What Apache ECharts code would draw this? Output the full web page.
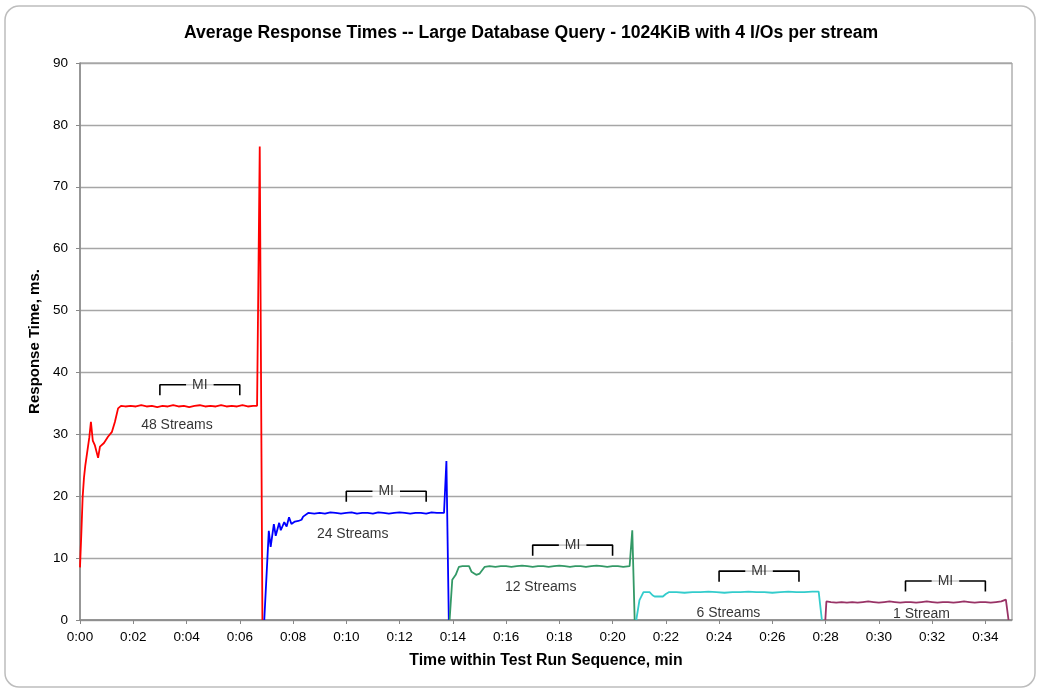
<!DOCTYPE html>
<html>
<head>
<meta charset="utf-8">
<script src="https://cdn.jsdelivr.net/npm/echarts@6/dist/echarts.min.js"></script>
<style>html,body{margin:0;padding:0;background:#fff}#c{width:1039px;height:690px}</style>
</head>
<body>
<div id="c"></div>
<script>
// ---- data (time in minutes, response time in ms) ----
const red48 = [[0,8.5],[0.05,14],[0.1,19.9],[0.15,23],[0.2,25],[0.3,28],[0.35,29.5],[0.41,32],[0.48,29],[0.56,28.2],[0.62,28],[0.68,26.2],[0.75,28],[0.9,28.6],[1.05,29.6],[1.2,30.4],[1.31,32],[1.43,34.2],[1.54,34.6],
  [1.7,34.5],[1.9,34.6],[2.1,34.5],[2.3,34.7],[2.5,34.5],[2.7,34.6],[2.9,34.4],[3.1,34.6],[3.3,34.5],[3.5,34.7],[3.7,34.5],[3.9,34.6],[4.1,34.4],[4.3,34.6],[4.5,34.7],[4.7,34.5],[4.9,34.6],[5.1,34.5],[5.3,34.7],[5.5,34.5],[5.7,34.6],[5.9,34.5],[6.1,34.7],[6.3,34.5],[6.5,34.6],[6.65,34.6],[6.75,76.5],[6.85,0]];
const blue24 = [[6.92,0],[7.09,14.4],[7.16,11.8],[7.28,15.5],[7.35,13.6],[7.48,15.7],[7.54,14.5],[7.67,15.8],[7.76,15.1],[7.85,16.6],[7.94,15.5],[8.07,15.9],[8.2,16.0],[8.32,16.2],[8.38,16.7],[8.57,17.3],
  [8.8,17.2],[9.0,17.3],[9.2,17.2],[9.4,17.4],[9.6,17.3],[9.8,17.2],[10.0,17.3],[10.2,17.4],[10.4,17.2],[10.6,17.3],[10.8,17.3],[11.0,17.2],[11.2,17.4],[11.4,17.3],[11.6,17.2],[11.8,17.3],[12.0,17.4],[12.2,17.3],[12.4,17.2],[12.6,17.3],[12.8,17.3],[13.0,17.2],[13.2,17.4],[13.4,17.3],[13.67,17.3],[13.76,25.7],[13.85,0]];
const green12 = [[13.88,0],[13.98,6.5],[14.03,6.2],[14.11,7.3],[14.23,8.6],[14.36,8.7],[14.61,8.7],[14.70,7.8],[14.88,7.3],[15.01,7.5],[15.20,8.6],[15.38,8.7],
  [15.6,8.6],[15.8,8.7],[16.0,8.7],[16.2,8.6],[16.4,8.7],[16.6,8.8],[16.8,8.7],[17.0,8.6],[17.2,8.7],[17.4,8.7],[17.6,8.6],[17.8,8.7],[18.0,8.8],[18.2,8.7],[18.4,8.6],[18.6,8.7],[18.8,8.7],[19.0,8.6],[19.2,8.7],[19.4,8.8],[19.6,8.7],[19.8,8.6],[20.0,8.7],[20.2,8.7],[20.4,8.6],[20.64,8.7],[20.74,14.5],[20.83,0]];
const cyan6 = [[20.89,0],[21.01,3.2],[21.08,3.5],[21.16,4.5],[21.39,4.5],[21.5,4.0],[21.58,3.8],[21.89,3.8],[22.0,4.2],[22.11,4.5],
  [22.4,4.5],[22.7,4.4],[23.0,4.5],[23.3,4.5],[23.6,4.6],[23.9,4.5],[24.2,4.4],[24.5,4.5],[24.8,4.5],[25.1,4.6],[25.4,4.5],[25.7,4.5],[26.0,4.4],[26.3,4.5],[26.6,4.6],[26.9,4.5],[27.2,4.5],[27.5,4.6],[27.74,4.6],[27.86,0]];
const plum1 = [[27.99,0],[28.03,3.0],[28.2,2.9],[28.4,2.8],[28.6,2.9],[28.8,2.8],[29.0,2.9],[29.2,2.8],[29.4,2.9],[29.6,3.0],[29.8,2.9],[30.0,2.8],[30.2,2.9],[30.4,3.0],[30.6,2.9],[30.8,2.8],[31.0,2.9],[31.2,2.9],[31.4,2.8],[31.6,2.9],[31.8,3.0],[32.0,2.9],[32.2,2.8],[32.4,2.9],[32.6,2.9],[32.8,2.8],[33.0,2.9],[33.2,3.0],[33.4,2.9],[33.6,2.8],[33.8,2.9],[34.0,2.9],[34.2,2.8],[34.4,2.9],[34.6,3.0],[34.77,3.3],[34.87,0]];

// measurement interval brackets
const miStart = [3, 10, 17, 24, 31];
const miEnd   = [6, 13, 20, 27, 34];
const miLevel = [38, 20.8, 12.1, 7.9, 6.3];

// stream labels
const streamText = ['48 Streams', '24 Streams', '12 Streams', '6 Streams', '1 Stream'];
const streamX = [3.64, 10.24, 17.3, 24.35, 31.6];
const streamY = [31.5, 13.9, 5.3, 1.1, 1.0];

const xTicks = [0,2,4,6,8,10,12,14,16,18,20,22,24,26,28,30,32,34];
const yTicks = [0,10,20,30,40,50,60,70,80,90];

const FONT = "'Liberation Sans', Arial, sans-serif";
const chart = echarts.init(document.getElementById('c'), null, {renderer: 'canvas'});

const dataSeries = [
  {d: red48, c: '#ff0000'}, {d: blue24, c: '#0000ff'}, {d: green12, c: '#339966'},
  {d: cyan6, c: '#33cccc'}, {d: plum1, c: '#993366'}
].map(s => ({
  type: 'line', data: s.d, showSymbol: false, symbol: 'none', animation: false,
  lineStyle: {color: s.c, width: 1.8}, z: 3
}));

const tickDepth = 1.7;
const bracketSeries = miStart.map((s, i) => ({
  type: 'line', showSymbol: false, symbol: 'none', animation: false, z: 4,
  lineStyle: {color: '#000', width: 1.6},
  data: [[s, miLevel[i] - tickDepth], [s, miLevel[i]], [miEnd[i], miLevel[i]], [miEnd[i], miLevel[i] - tickDepth]]
}));

const miLabels = {
  type: 'scatter', symbolSize: 0, animation: false, z: 6,
  data: miStart.map((s, i) => [(s + miEnd[i]) / 2, miLevel[i]]),
  label: {show: true, position: 'inside', formatter: 'MI', color: '#000', fontFamily: FONT, fontSize: 14,
    backgroundColor: '#fff', padding: [1, 6]}
};

const streamLabels = {
  type: 'scatter', symbolSize: 0, animation: false, z: 6,
  data: streamX.map((x, i) => ({value: [x, streamY[i]], name: streamText[i]})),
  label: {show: true, position: 'inside', formatter: p => p.name, color: '#000', fontFamily: FONT, fontSize: 14}
};

chart.setOption({
  backgroundColor: '#fff',
  animation: false,
  textStyle: {fontFamily: FONT},
  title: {
    text: 'Average Response Times -- Large Database Query - 1024KiB with 4 I/Os per stream',
    left: 526, top: 19, textAlign: 'center',
    textStyle: {fontFamily: FONT, fontSize: 17.6, fontWeight: 'bold', color: '#000'}
  },
  graphic: [{
    type: 'rect', shape: {x: 5, y: 6, width: 1030, height: 681, r: 14},
    style: {fill: 'none', stroke: '#bdbdbd', lineWidth: 1.5}, silent: true, z: -1
  }],
  grid: {left: 80, right: 27, top: 63, bottom: 70, show: true, borderColor: '#888', borderWidth: 1, backgroundColor: '#fff'},
  xAxis: {
    type: 'value', min: 0, max: 35, interval: 2,
    name: 'Time within Test Run Sequence, min', nameLocation: 'middle', nameGap: 33,
    nameTextStyle: {fontFamily: FONT, fontSize: 15.8, fontWeight: 'bold', color: '#000'},
    axisLine: {show: true, lineStyle: {color: '#888', width: 1.5}},
    axisTick: {show: true, length: 4, lineStyle: {color: '#888'}, customValues: xTicks},
    axisLabel: {color: '#000', fontSize: 13.5, fontFamily: FONT, margin: 10, customValues: xTicks,
      formatter: v => '0:' + String(Math.round(v)).padStart(2, '0')},
    splitLine: {show: false}
  },
  yAxis: {
    type: 'value', min: 0, max: 90, interval: 10,
    name: 'Response Time, ms.', nameLocation: 'middle', nameGap: 34.5, nameRotate: 90,
    nameTextStyle: {fontFamily: FONT, fontSize: 15, fontWeight: 'bold', color: '#000'},
    axisLine: {show: true, lineStyle: {color: '#888', width: 1.5}},
    axisTick: {show: true, length: 4, lineStyle: {color: '#888'}},
    axisLabel: {color: '#000', fontSize: 13.5, fontFamily: FONT, margin: 12, customValues: yTicks},
    splitLine: {show: true, lineStyle: {color: '#a6a6a6', width: 1.3}}
  },
  series: [...dataSeries, ...bracketSeries, miLabels, streamLabels]
});
</script>
</body>
</html>
